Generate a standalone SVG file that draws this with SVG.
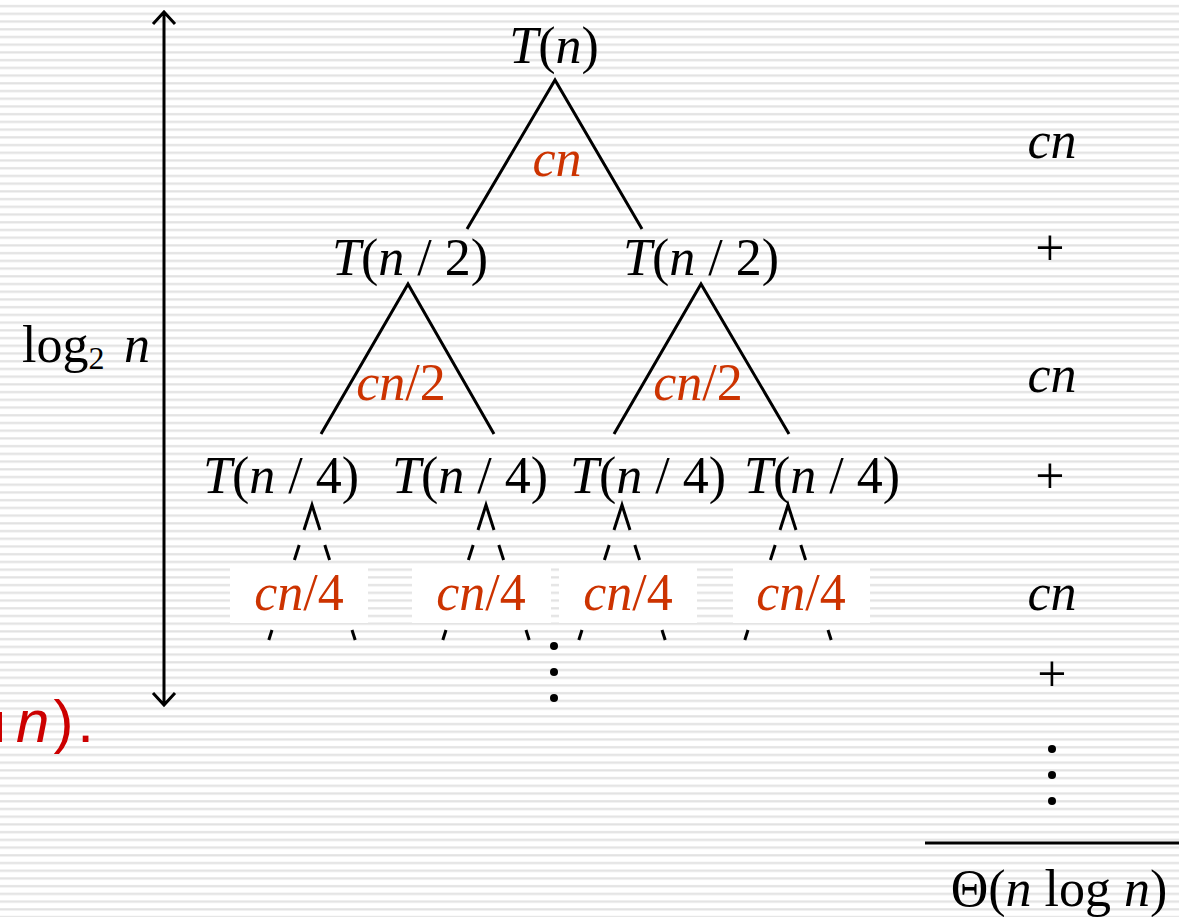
<svg xmlns="http://www.w3.org/2000/svg" width="1179" height="917" viewBox="0 0 1179 917">
<defs>
<pattern id="stripes" patternUnits="userSpaceOnUse" x="0" y="0" width="20" height="7.72">
<rect x="0" y="0" width="20" height="7.72" fill="#ffffff"/>
<rect x="0" y="5" width="20" height="2.2" fill="#e2e2e2"/>
</pattern>
<g id="sub">
<path d="M-8,25 L0,0 L8,25" fill="none" stroke="#000" stroke-width="3" stroke-linejoin="miter"/>
<path d="M-12.8,40 L-17.6,55 M12.8,40 L17.6,55 M-40,125 L-43.2,135 M40,125 L43.2,135" fill="none" stroke="#000" stroke-width="3"/>
</g>
</defs>
<style>
text{font-family:"Liberation Serif","Times New Roman",serif;font-size:52px;fill:#000}
.i{font-style:italic}
.r{fill:#cc3300}
.m{text-anchor:middle}
.ln{stroke:#000;stroke-width:3;fill:none}
.box{fill:#ffffff}
</style>
<rect x="0" y="0" width="1179" height="917" fill="url(#stripes)"/>

<g id="connectors">
<path class="ln" d="M467,229 L555,80 L642,229"/>
<path class="ln" d="M321,434 L408,284 L494,434"/>
<path class="ln" d="M614,434 L701,284 L789,434"/>
<use href="#sub" x="312" y="505"/>
<use href="#sub" x="486" y="505"/>
<use href="#sub" x="622" y="505"/>
<use href="#sub" x="788" y="505"/>
<path class="ln" d="M164,12 L164,705 M153,24 L164,12 L175,24 M153,693 L164,705 L175,693"/>
<line x1="925" y1="843" x2="1179" y2="843" stroke="#000" stroke-width="3"/>
</g>

<g id="root"><text class="m" x="554" y="63"><tspan class="i">T</tspan>(<tspan class="i">n</tspan>)</text>
<text class="m r i" x="557" y="176">cn</text></g>

<g id="l2a"><text class="m" x="410" y="275"><tspan class="i">T</tspan>(<tspan class="i">n</tspan> / 2)</text>
<text class="m r" x="401" y="400"><tspan class="i">cn</tspan>/2</text></g>
<g id="l2b"><text class="m" x="701" y="275"><tspan class="i">T</tspan>(<tspan class="i">n</tspan> / 2)</text>
<text class="m r" x="698" y="400"><tspan class="i">cn</tspan>/2</text></g>

<g id="l3a"><text class="m" x="281" y="493"><tspan class="i">T</tspan>(<tspan class="i">n</tspan> / 4)</text></g>
<g id="l3b"><text class="m" x="470" y="493"><tspan class="i">T</tspan>(<tspan class="i">n</tspan> / 4)</text></g>
<g id="l3c"><text class="m" x="648" y="493"><tspan class="i">T</tspan>(<tspan class="i">n</tspan> / 4)</text></g>
<g id="l3d"><text class="m" x="822" y="493"><tspan class="i">T</tspan>(<tspan class="i">n</tspan> / 4)</text></g>

<g id="l4">
<rect class="box" x="230" y="565" width="138" height="58"/>
<rect class="box" x="412" y="565" width="139" height="58"/>
<rect class="box" x="559" y="565" width="138" height="58"/>
<rect class="box" x="733" y="565" width="137" height="58"/>
<text class="m r" x="299" y="610"><tspan class="i">cn</tspan>/4</text>
<text class="m r" x="481" y="610"><tspan class="i">cn</tspan>/4</text>
<text class="m r" x="628" y="610"><tspan class="i">cn</tspan>/4</text>
<text class="m r" x="801" y="610"><tspan class="i">cn</tspan>/4</text>
<circle cx="554" cy="646" r="4"/>
<circle cx="554" cy="672" r="4"/>
<circle cx="554" cy="698" r="4"/>
</g>

<g id="height"><text x="22" y="362" font-size="52">log<tspan font-size="32" dy="7">2</tspan><tspan class="i" dy="-7" x="124">n</tspan></text></g>

<g id="sum">
<text class="m i" x="1052" y="158">cn</text>
<text class="m" x="1050" y="265">+</text>
<text class="m i" x="1052" y="392">cn</text>
<text class="m" x="1050" y="493">+</text>
<text class="m i" x="1052" y="610">cn</text>
<text class="m" x="1052" y="691">+</text>
<circle cx="1052" cy="749" r="4"/>
<circle cx="1052" cy="775" r="4"/>
<circle cx="1052" cy="801" r="4"/>
<text class="m" x="1059" y="906" font-size="53">Θ(<tspan class="i">n</tspan> log <tspan class="i">n</tspan>)</text>
</g>

<g id="redtext">
<rect x="0" y="712" width="2" height="30" fill="#cc0000"/>
<text x="16" y="742" letter-spacing="4" style="font-family:'Liberation Sans',Arial,sans-serif;font-size:60px;fill:#cc0000"><tspan font-style="italic">n</tspan>).</text>
</g>
</svg>
